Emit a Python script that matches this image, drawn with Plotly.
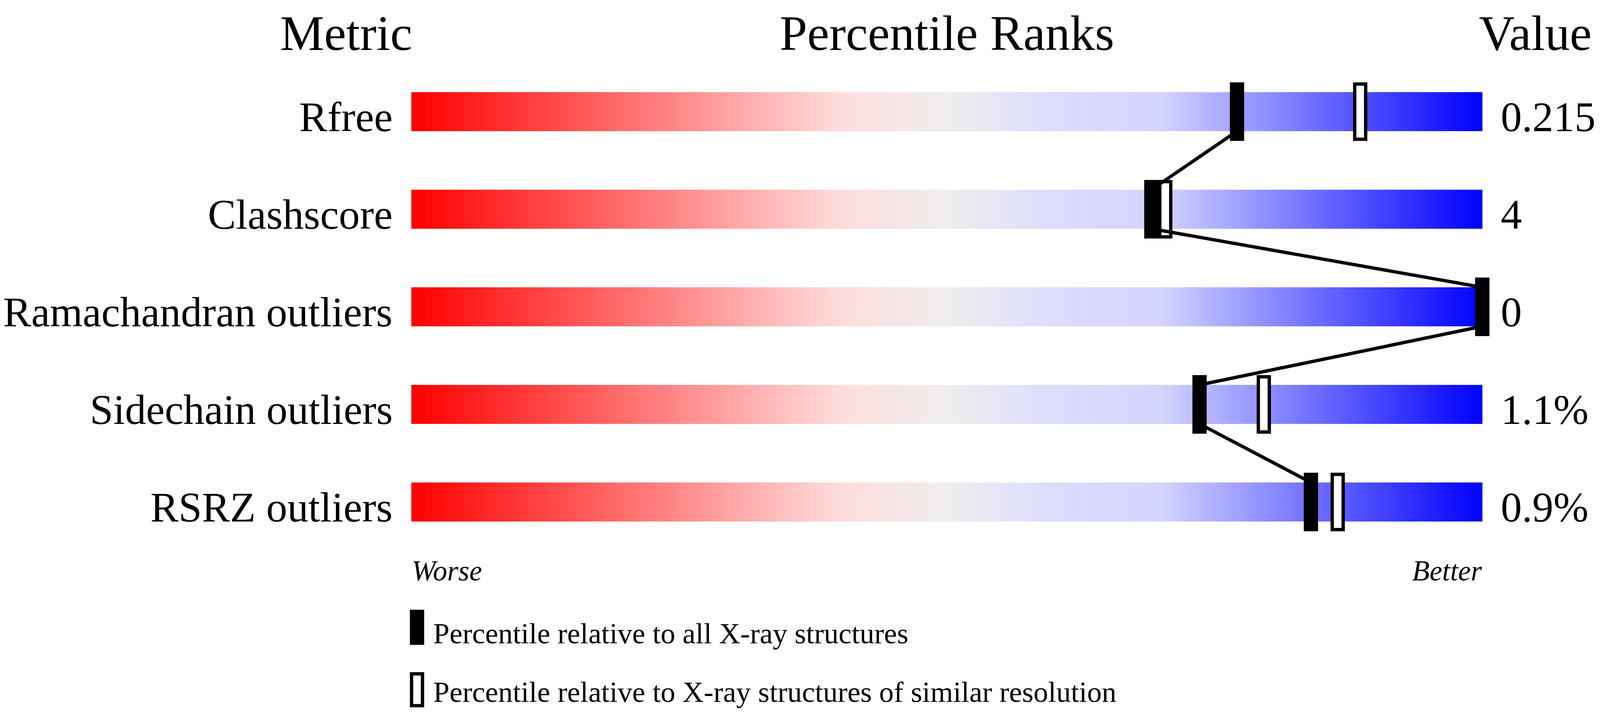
import numpy as np
import plotly.graph_objects as go

metrics = ["Rfree", "Clashscore", "Ramachandran outliers", "Sidechain outliers", "RSRZ outliers"]
values = ["0.215", "4", "0", "1.1%", "0.9%"]
pct_all = [77.1, 69.1, 100, 73.6, 84.0]       # vs all X-ray structures
pct_similar = [88.6, 70.4, 100, 79.6, 86.5]   # vs similar resolution
headers = ["Metric", "Percentile Ranks", "Value"]
ends = ["Worse", "Better"]
legend_labels = ["Percentile relative to all X-ray structures",
                 "Percentile relative to X-ray structures of similar resolution"]

# the browser viewport comes out 4096 wide, so the 4485 px layout is squeezed in x
REF_W = 4485
VW, VH = 4096, 1824
SX = VW / REF_W
OFF = 8                      # default body margin of the html page
FW, FH = VW - 2 * OFF, VH - 2 * OFF
FONT = "Liberation Serif"
rows = list(range(len(metrics)))

# slider geometry in reference pixels
X0, X1 = 1153, 4155
XR = [-3, 103]       # axis range, a bit wider than the slider so end markers aren't clipped
ROW0, ROWSTEP = 286, 250
BAR_H = 0.4          # row units (100 px)
MARK_H = 0.6         # 150 px
px_per_unit = (X1 - X0) * SX / 100
MARK_W = 40 * SX / px_per_unit
EDGE = 8.5

slider_scale = [[0, "#ff0000"], [0.4, "#ffdcdc"], [0.5, "#eeeeee"],
                [0.6, "#dcdcff"], [0.7, "#d4d4ff"], [1, "#0000ff"]]


def px(x):
    return (x * SX - OFF) / FW


def py(y):
    return 1 - (y - OFF) / FH


def fs(size):
    return round(size * SX, 1)


fig = go.Figure()

edges = np.linspace(0, 100, 401)
mids = (edges[:-1] + edges[1:]) / 2
for r in rows:
    fig.add_trace(go.Heatmap(x=edges, y=[r - BAR_H / 2, r + BAR_H / 2], z=[mids],
                             colorscale=slider_scale, zmin=0, zmax=100,
                             showscale=False, hoverinfo="skip"))

# open markers (similar resolution)
ow = MARK_W - EDGE / px_per_unit
fig.add_trace(go.Bar(orientation="h", y=rows, x=[ow] * len(rows),
                     base=[p - ow / 2 for p in pct_similar],
                     width=MARK_H - EDGE / ROWSTEP,
                     marker=dict(color="white", line=dict(color="black", width=EDGE)),
                     hoverinfo="skip", showlegend=False))

# connecting line between the filled markers
lx, ly = [], []
for i in range(len(rows) - 1):
    lx += [pct_all[i], pct_all[i + 1], None]
    ly += [i + BAR_H / 2, i + 1 - BAR_H / 2, None]
fig.add_trace(go.Scatter(x=lx, y=ly, mode="lines", line=dict(color="black", width=8.5),
                         hoverinfo="skip", showlegend=False))

# filled markers (all X-ray)
fig.add_trace(go.Bar(orientation="h", y=rows, x=[MARK_W] * len(rows),
                     base=[p - MARK_W / 2 for p in pct_all], width=MARK_H,
                     marker=dict(color="black", line=dict(width=0)),
                     hoverinfo="skip", showlegend=False))

ann = []
# headers
ann.append(dict(x=px(970), y=py(85), text=headers[0], xanchor="center", font_size=fs(139)))
ann.append(dict(x=px((X0 + X1) / 2), y=py(85), text=headers[1], xanchor="center", font_size=fs(139)))
ann.append(dict(x=px(4145), y=py(85), text=headers[2], xanchor="left", font_size=fs(139)))

for r, (m, v) in enumerate(zip(metrics, values)):
    ann.append(dict(x=px(1102), y=r, yref="y", yshift=-13.5, text=m, xanchor="right", font_size=fs(118)))
    ann.append(dict(x=px(4206), y=r, yref="y", yshift=-13.5, text=v, xanchor="left", font_size=fs(118)))

ann.append(dict(x=px(X0), y=py(1462), text="<i>" + ends[0] + "</i>", xanchor="left", font_size=fs(80)))
ann.append(dict(x=px(X1), y=py(1462), text="<i>" + ends[1] + "</i>", xanchor="right", font_size=fs(80)))

ann.append(dict(x=px(1213), y=py(1622), text=legend_labels[0], xanchor="left", font_size=fs(82)))
ann.append(dict(x=px(1213), y=py(1772), text=legend_labels[1], xanchor="left", font_size=fs(82)))

for a in ann:
    a.setdefault("xref", "paper")
    a.setdefault("yref", "paper")
    a["yanchor"] = "middle"
    a["showarrow"] = False
    a["borderpad"] = 0
    a["font"] = dict(family=FONT, size=a.pop("font_size"), color="black")

# legend swatches
shapes = [
    dict(type="rect", xref="paper", yref="paper", x0=px(1149), x1=px(1189),
         y0=py(1652), y1=py(1562), fillcolor="black", line=dict(width=0)),
    dict(type="rect", xref="paper", yref="paper",
         x0=px(1149) + EDGE / 2 / FW, x1=px(1189) - EDGE / 2 / FW,
         y0=py(1812 - EDGE / 2), y1=py(1722 + EDGE / 2), fillcolor="white",
         line=dict(color="black", width=EDGE)),
]

fig.update_layout(
    width=FW, height=FH,
    margin=dict(l=0, r=0, t=0, b=0),
    paper_bgcolor="white", plot_bgcolor="white",
    barmode="overlay", showlegend=False,
    xaxis=dict(domain=[px(X0 + (X1 - X0) * XR[0] / 100), px(X0 + (X1 - X0) * XR[1] / 100)],
               range=XR, visible=False, fixedrange=True),
    yaxis=dict(domain=[0, 1],
               range=[(FH - (ROW0 - OFF)) / ROWSTEP, -(ROW0 - OFF) / ROWSTEP],
               visible=False, fixedrange=True),
    annotations=ann, shapes=shapes,
)

fig.write_html("out.html")
